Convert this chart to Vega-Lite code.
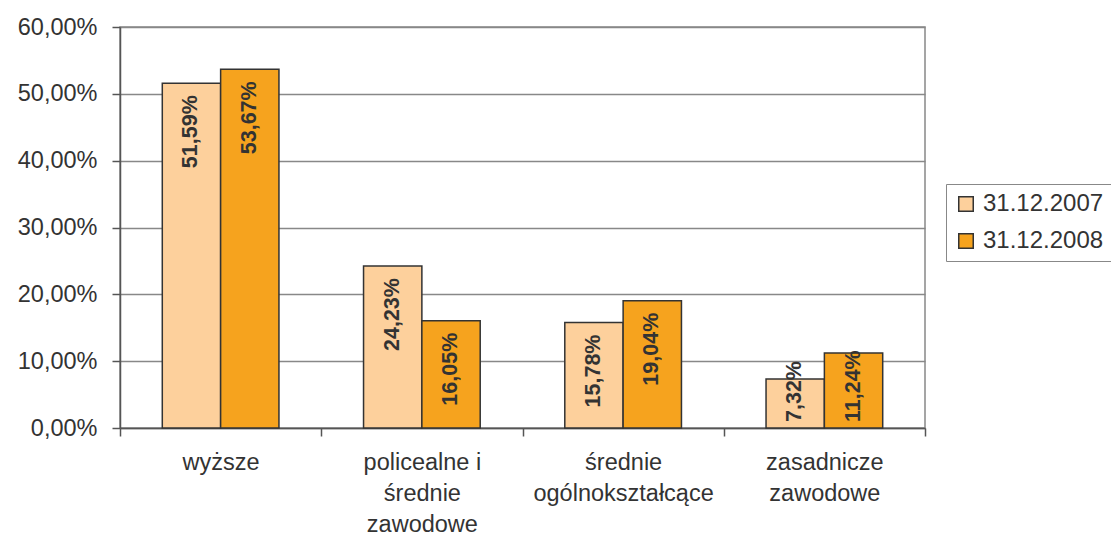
{
  "$schema": "https://vega.github.io/schema/vega-lite/v6.json",
  "width": 805,
  "height": 401,
  "autosize": {"type": "none"},
  "padding": {"left": 120, "top": 27, "right": 186, "bottom": 110},
  "config": {
    "locale": {"number": {"decimal": ",", "thousands": " ", "grouping": [3], "currency": ["", " zł"]}},
    "font": "Liberation Sans",
    "view": {"stroke": "#888888", "strokeWidth": 1.5},
    "axis": {"labelFont": "Liberation Sans", "labelColor": "#333333", "labelFontSize": 23.5}
  },
  "data": {
    "values": [
      {"category": "wyższe", "year": "31.12.2007", "value": 0.5159},
      {"category": "wyższe", "year": "31.12.2008", "value": 0.5367},
      {"category": "policealne i średnie zawodowe", "year": "31.12.2007", "value": 0.2423},
      {"category": "policealne i średnie zawodowe", "year": "31.12.2008", "value": 0.1605},
      {"category": "średnie ogólnokształcące", "year": "31.12.2007", "value": 0.1578},
      {"category": "średnie ogólnokształcące", "year": "31.12.2008", "value": 0.1904},
      {"category": "zasadnicze zawodowe", "year": "31.12.2007", "value": 0.0732},
      {"category": "zasadnicze zawodowe", "year": "31.12.2008", "value": 0.1124}
    ]
  },
  "encoding": {
    "x": {
      "field": "category",
      "type": "nominal",
      "sort": null,
      "scale": {"paddingInner": 0, "paddingOuter": 0},
      "axis": {
        "title": null,
        "labelAngle": 0,
        "labelLimit": 400,
        "tickBand": "extent",
        "grid": false,
        "domainColor": "#555555",
        "domainWidth": 1.5,
        "tickColor": "#555555",
        "tickWidth": 1.5,
        "tickSize": 8,
        "labelPadding": 14,
        "labelBaseline": "top",
        "labelLineHeight": 31,
        "labelExpr": "datum.label == 'policealne i średnie zawodowe' ? ['policealne i', 'średnie', 'zawodowe'] : datum.label == 'średnie ogólnokształcące' ? ['średnie', 'ogólnokształcące'] : datum.label == 'zasadnicze zawodowe' ? ['zasadnicze', 'zawodowe'] : datum.label"
      }
    },
    "xOffset": {"field": "year", "type": "nominal", "scale": {"paddingInner": 0, "paddingOuter": 0.725}}
  },
  "layer": [
    {
      "mark": {"type": "bar", "stroke": "#333333", "strokeWidth": 1.5},
      "encoding": {
        "y": {
          "field": "value",
          "type": "quantitative",
          "scale": {"domain": [0, 0.6], "nice": false},
          "axis": {
            "title": null,
            "format": ".2%",
            "values": [0, 0.1, 0.2, 0.3, 0.4, 0.5, 0.6],
            "gridColor": "#888888",
            "gridWidth": 1.5,
            "domainColor": "#555555",
            "domainWidth": 1.5,
            "tickColor": "#555555",
            "tickWidth": 1.5,
            "tickSize": 8,
            "labelPadding": 15
          }
        },
        "color": {
          "field": "year",
          "type": "nominal",
          "scale": {"range": ["#FDD09C", "#F6A31E"]},
          "legend": {
            "title": null,
            "orient": "none",
            "legendX": 826,
            "legendY": 157,
            "strokeColor": "#888888",
            "padding": 8,
            "symbolType": "square",
            "symbolSize": 210,
            "symbolStrokeColor": "#333333",
            "symbolStrokeWidth": 1.5,
            "symbolOpacity": 1,
            "labelFontSize": 24,
            "labelFont": "Liberation Sans",
            "labelColor": "#333333",
            "labelOffset": 5,
            "rowPadding": 13
          }
        }
      }
    },
    {
      "transform": [{"filter": "datum.value >= 0.15"}],
      "mark": {"type": "text", "angle": 270, "align": "right", "baseline": "middle", "dx": -12, "fontSize": 21.5, "fontWeight": "bold", "fill": "#333333", "font": "Liberation Sans"},
      "encoding": {
        "y": {"field": "value", "type": "quantitative"},
        "text": {"field": "value", "type": "quantitative", "format": ".2%"}
      }
    },
    {
      "transform": [{"filter": "datum.value < 0.15"}],
      "mark": {"type": "text", "angle": 270, "align": "left", "baseline": "middle", "dx": 6, "fontSize": 21.5, "fontWeight": "bold", "fill": "#333333", "font": "Liberation Sans"},
      "encoding": {
        "y": {"datum": 0, "type": "quantitative"},
        "text": {"field": "value", "type": "quantitative", "format": ".2%"}
      }
    }
  ]
}
